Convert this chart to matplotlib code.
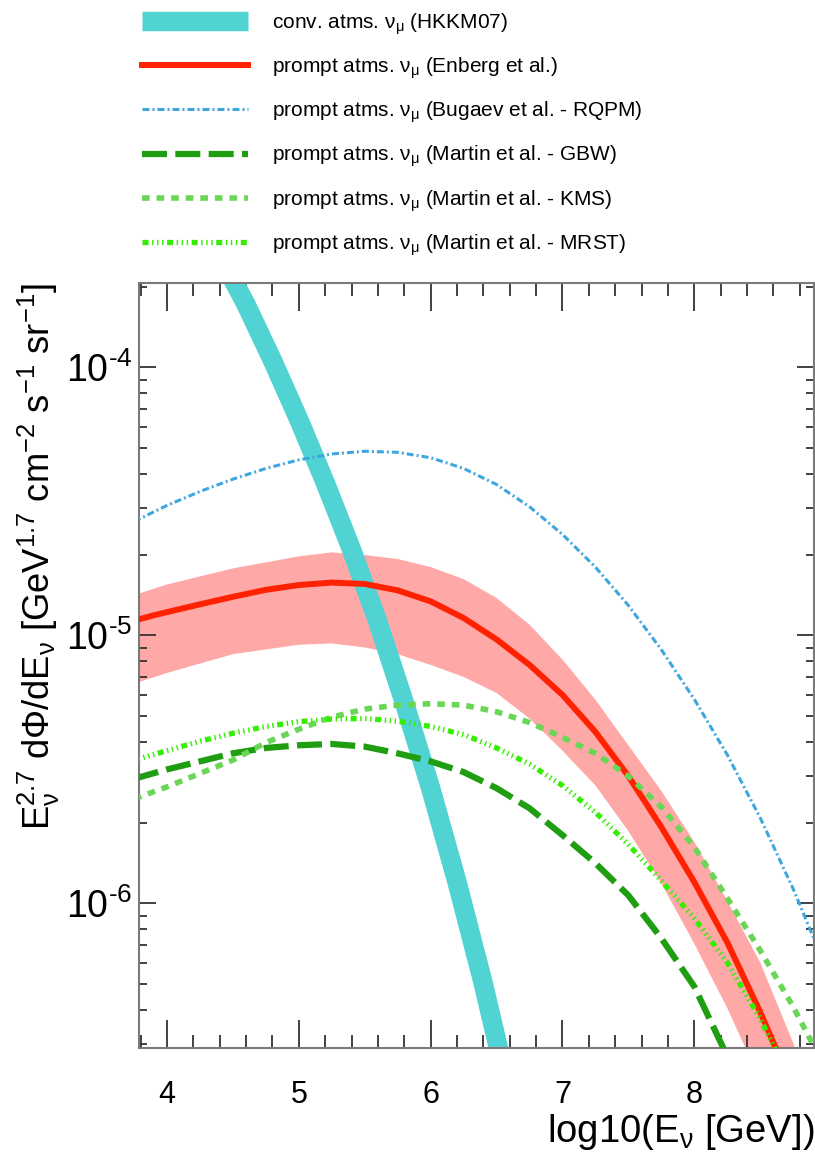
import numpy as np
import matplotlib
matplotlib.use('Agg')
import matplotlib.pyplot as plt
from matplotlib.ticker import MultipleLocator, LogLocator, NullFormatter, FuncFormatter

plt.rcParams['font.family'] = ['Liberation Sans', 'DejaVu Sans']
plt.rcParams['mathtext.fontset'] = 'custom'
plt.rcParams['mathtext.rm'] = 'Liberation Sans'
plt.rcParams['mathtext.it'] = 'Liberation Sans:italic'
plt.rcParams['mathtext.bf'] = 'Liberation Sans:bold'
plt.rcParams['lines.scale_dashes'] = False

# 曲线数据: log10(E) 与 log10(E^2.7 dPhi/dE)
conv_x = [4.40, 4.60, 4.80, 5.00, 5.20, 5.40, 5.60, 5.80, 6.00, 6.20, 6.40, 6.60]
conv_logy = [-3.581, -3.766, -3.974, -4.195, -4.43, -4.68, -4.95, -5.25, -5.57, -5.92, -6.30, -6.72]

enberg_x = [3.75, 3.90, 4.00, 4.25, 4.50, 4.75, 5.00, 5.25, 5.50, 5.75, 6.00, 6.25, 6.50,
            6.75, 7.00, 7.25, 7.50, 7.75, 8.00, 8.25, 8.50, 8.75]
enberg_logy = [-4.945, -4.925, -4.913, -4.884, -4.856, -4.83, -4.812, -4.803, -4.808, -4.832, -4.873, -4.935,
               -5.015, -5.11, -5.222, -5.36, -5.525, -5.715, -5.92, -6.145, -6.405, -6.69]

band_hi_x = [3.75, 4.00, 4.50, 5.00, 5.25, 5.50, 5.75, 6.00, 6.25, 6.50, 6.75, 7.00,
             7.25, 7.50, 7.75, 8.00, 8.25, 8.50, 8.75, 9.00]
band_hi_logy = [-4.85, -4.81, -4.75, -4.705, -4.69, -4.70, -4.715, -4.745, -4.79, -4.86, -4.96, -5.09,
                -5.24, -5.41, -5.58, -5.77, -5.99, -6.22, -6.52, -6.85]
band_lo_x = [3.75, 4.00, 4.50, 5.00, 5.25, 5.50, 5.75, 6.00, 6.25, 6.50, 6.75, 7.00,
             7.25, 7.50, 7.75, 8.00, 8.25, 8.50, 8.75]
band_lo_logy = [-5.18, -5.14, -5.07, -5.035, -5.03, -5.045, -5.07, -5.11, -5.155, -5.215, -5.31, -5.43,
                -5.56, -5.73, -5.925, -6.15, -6.39, -6.66, -6.95]

rqpm_x = [3.75, 4.00, 4.25, 4.50, 4.75, 5.00, 5.25, 5.50, 5.75, 6.00, 6.25, 6.50,
          6.75, 7.00, 7.25, 7.50, 7.75, 8.00, 8.25, 8.50, 8.75, 9.00]
rqpm_logy = [-4.575, -4.515, -4.463, -4.417, -4.377, -4.345, -4.323, -4.313, -4.317, -4.337, -4.377, -4.437,
             -4.52, -4.623, -4.745, -4.888, -5.053, -5.238, -5.445, -5.68, -5.945, -6.24]

gbw_x = [3.75, 4.00, 4.25, 4.50, 4.75, 5.00, 5.25, 5.50, 5.75, 6.00, 6.25, 6.50,
         6.75, 7.00, 7.25, 7.50, 7.75, 8.00, 8.25, 8.40]
gbw_logy = [-5.535, -5.50, -5.47, -5.44, -5.42, -5.41, -5.405, -5.415, -5.44, -5.47, -5.51, -5.57,
            -5.645, -5.745, -5.85, -5.97, -6.13, -6.31, -6.57, -6.75]

kms_x = [3.75, 4.00, 4.25, 4.50, 4.75, 5.00, 5.25, 5.50, 5.75, 6.00, 6.25, 6.50,
         6.75, 7.00, 7.25, 7.50, 7.75, 8.00, 8.25, 8.50, 8.75, 9.00]
kms_logy = [-5.61, -5.565, -5.515, -5.465, -5.40, -5.35, -5.305, -5.275, -5.26, -5.255, -5.26, -5.285,
            -5.325, -5.38, -5.44, -5.525, -5.64, -5.79, -5.98, -6.175, -6.385, -6.62]

mrst_x = [3.75, 4.00, 4.25, 4.50, 4.75, 5.00, 5.25, 5.50, 5.75, 6.00, 6.25, 6.50,
          6.75, 7.00, 7.25, 7.50, 7.75, 8.00, 8.25, 8.50, 8.75]
mrst_logy = [-5.465, -5.43, -5.395, -5.365, -5.34, -5.322, -5.312, -5.31, -5.32, -5.34, -5.37, -5.42,
             -5.48, -5.56, -5.66, -5.78, -5.915, -6.055, -6.22, -6.43, -6.68]

labels = [r'conv. atms. $\mathregular{\nu_{\mu}}$ (HKKM07)',
          r'prompt atms. $\mathregular{\nu_{\mu}}$ (Enberg et al.)',
          r'prompt atms. $\mathregular{\nu_{\mu}}$ (Bugaev et al. - RQPM)',
          r'prompt atms. $\mathregular{\nu_{\mu}}$ (Martin et al. - GBW)',
          r'prompt atms. $\mathregular{\nu_{\mu}}$ (Martin et al. - KMS)',
          r'prompt atms. $\mathregular{\nu_{\mu}}$ (Martin et al. - MRST)']


def pw(a):
    return 10 ** np.asarray(a)


def exp_label(v, p):
    # 指数用短横线 (U+2010), 与原图一致
    e = int(round(np.log10(v)))
    sign = '\u2010' if e < 0 else ''
    return '$\\mathregular{10^{%s%d}}$' % (sign, abs(e))


fig = plt.figure(figsize=(8.15, 11.6), dpi=100)
ax = fig.add_axes([0.171, 0.0963, 0.828, 0.6595])

# 误差带
ax.fill(np.concatenate([band_hi_x, band_lo_x[::-1]]),
        pw(np.concatenate([band_hi_logy, band_lo_logy[::-1]])),
        color='#ffa8a8', lw=0, zorder=1)

ax.plot(conv_x, pw(conv_logy), color='#52d3d3', lw=14, solid_capstyle='butt',
        solid_joinstyle='round', zorder=2, label=labels[0])
ax.plot(enberg_x, pw(enberg_logy), color='#ff2200', lw=4.3, solid_joinstyle='round',
        zorder=3, label=labels[1])
ax.plot(rqpm_x, pw(rqpm_logy), color='#3ea6de', lw=2.2, dashes=(5, 2.2, 1.4, 2.2),
        zorder=3, label=labels[2])
ax.plot(gbw_x, pw(gbw_logy), color='#1f9e12', lw=4.5, dashes=(18, 6),
        zorder=3, label=labels[3])
ax.plot(kms_x, pw(kms_logy), color='#6ad656', lw=4, dashes=(5.5, 5),
        zorder=3, label=labels[4])
ax.plot(mrst_x, pw(mrst_logy), color='#33ee00', lw=3.8,
        dashes=(4.3, 2.6, 1.0, 2.6, 1.0, 2.6, 1.0, 2.6), zorder=3, label=labels[5])

ax.set_yscale('log')
ax.set_xlim(3.79, 8.91)
ax.set_ylim(2.88e-7, 2.06e-4)

ax.xaxis.set_major_locator(MultipleLocator(1))
ax.xaxis.set_minor_locator(MultipleLocator(0.2))
ax.yaxis.set_major_locator(LogLocator(base=10))
ax.yaxis.set_minor_locator(LogLocator(base=10, subs=np.arange(2, 10)))
ax.yaxis.set_minor_formatter(NullFormatter())
ax.yaxis.set_major_formatter(FuncFormatter(exp_label))

ax.tick_params(which='both', direction='in', top=True, right=True,
               color='#333333', width=1.3)
ax.tick_params(axis='x', which='major', length=20, labelsize=22, pad=23)
ax.tick_params(axis='x', which='minor', length=9.5)
ax.tick_params(axis='y', which='major', length=12, labelsize=27, pad=5)
ax.tick_params(axis='y', which='minor', length=6)
for s in ax.spines.values():
    s.set_color('#7a7a7a')
    s.set_linewidth(1.5)

ax.set_xlabel(r'log10(E$_{\mathregular{\nu}}$ [GeV])', fontsize=27.5, loc='right', labelpad=1)
ax.set_ylabel(r'$\mathregular{E_{\nu}^{2.7}\ d\Phi/dE_{\nu}\ [GeV^{1.7}\ cm^{-2}\ s^{-1}\ sr^{-1}]}$',
              fontsize=26.2, loc='top')
ax.yaxis.set_label_coords((62 - 139.3) / 675.0, 1.0)

ax.legend(loc='upper left', bbox_to_anchor=(142 / 815, 1 - 11 / 1160),
          bbox_transform=fig.transFigure, frameon=False, fontsize=15,
          handlelength=5.1, handletextpad=1.15, borderpad=0, borderaxespad=0,
          labelspacing=0.9)

fig.savefig('out.png', dpi=100)
